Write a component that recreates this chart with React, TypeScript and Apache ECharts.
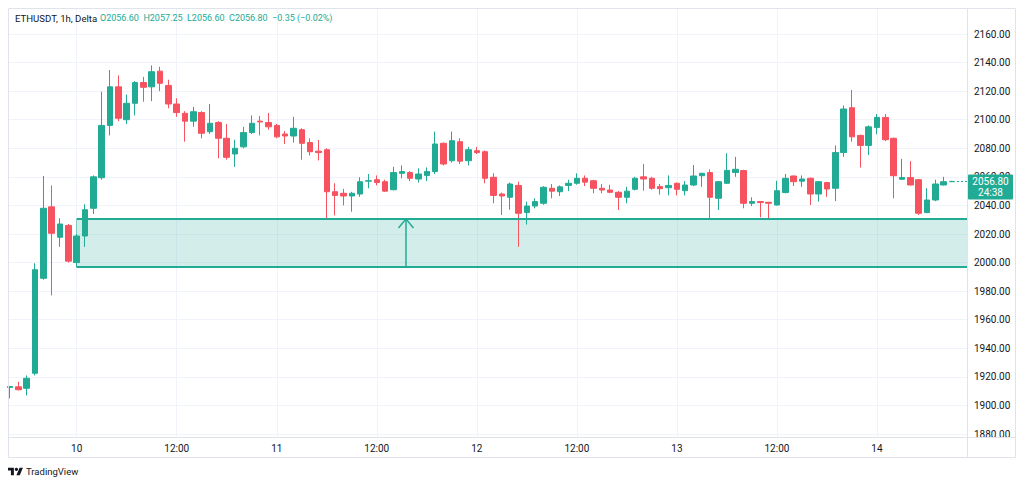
import React, { useEffect, useRef } from "react";
import * as echarts from "echarts";

// ---------- data ----------
const TITLE = "ETHUSDT, 1h, Delta";
const LEGEND_PARTS = ["O2056.60", "H2057.25", "L2056.60", "C2056.80", "\u22120.35 (\u22120.02%)"];
const COUNTDOWN = "24:38";

const OPENS = [
  1912.6, 1913, 1912, 1922.5, 1989, 2039, 2017.7, 2026, 2000, 2018.6,
  2038, 2059.4, 2096, 2123, 2100, 2111.5, 2126, 2123, 2134, 2124,
  2111, 2104.5, 2099, 2105, 2091.6, 2098, 2087, 2076, 2081, 2091,
  2099, 2098, 2096, 2090, 2088.6, 2093, 2084, 2078, 2079, 2049.6,
  2048.5, 2046.6, 2048, 2057, 2058, 2056.6, 2051, 2062.5, 2063, 2058.5,
  2061, 2063.7, 2083.5, 2071.3, 2084.6, 2071.3, 2078.3, 2077.6, 2059.7, 2048,
  2045.7, 2054, 2035, 2039.6, 2041.5, 2052, 2049.6, 2054, 2055.5, 2059,
  2057.3, 2052, 2050.8, 2049.2, 2045.7, 2051.3, 2060, 2059, 2053.2, 2052.4,
  2055.5, 2050.3, 2054.3, 2060.8, 2063, 2045, 2055.5, 2063, 2064.4, 2041.5,
  2042.7, 2042.2, 2040.3, 2049, 2060.6, 2057, 2059, 2048, 2056, 2052,
  2077, 2108.4, 2089, 2082, 2094.6, 2101.6, 2087, 2058.3, 2059.5, 2058,
  2035, 2043.8, 2054.3, 2056.6,
];
const HIGHS = [
  1913.4, 1916.6, 1921, 1999.5, 2060.6, 2054, 2031, 2027, 2020, 2040.8,
  2061, 2119.6, 2134.8, 2131, 2117.6, 2127, 2130, 2138, 2137, 2128,
  2115, 2106, 2109, 2106, 2111, 2099, 2097, 2086, 2095, 2103,
  2102.6, 2104.7, 2097, 2092, 2102, 2094, 2087, 2085.8, 2080, 2055.5,
  2051.6, 2049.5, 2059.7, 2062, 2061, 2058, 2067, 2068, 2064, 2066,
  2066.6, 2091.7, 2084, 2091.7, 2087, 2081, 2081, 2078.5, 2062.5, 2049,
  2056, 2056.6, 2042.7, 2045, 2053.5, 2055, 2054, 2058, 2062.5, 2061,
  2058, 2055, 2054.5, 2050, 2053, 2060, 2069, 2060, 2055, 2061,
  2056, 2057, 2068.3, 2062.8, 2065.3, 2057, 2076.5, 2074, 2065, 2045.7,
  2043, 2042.5, 2057.3, 2062, 2061, 2061, 2059.5, 2057, 2056.5, 2082,
  2110, 2120.8, 2089.5, 2096, 2104, 2104, 2087.5, 2072.6, 2071, 2058.5,
  2052, 2058, 2060, 2057.25,
];
const LOWS = [
  1905, 1910.5, 1907, 1921, 1988, 1977, 2011, 2000, 1996.7, 2011,
  2034, 2058, 2089, 2099, 2097, 2103, 2112.6, 2113, 2120, 2108,
  2102, 2084.6, 2095, 2087, 2090, 2073, 2072, 2067, 2080, 2090,
  2089, 2093, 2087, 2083, 2084, 2072, 2075, 2071.5, 2031, 2033,
  2040, 2035.6, 2046, 2052, 2054, 2049.5, 2050.5, 2059, 2057, 2056,
  2057, 2062, 2068, 2070, 2069, 2068, 2076, 2055.5, 2041.5, 2033.3,
  2037, 2011, 2026.6, 2038, 2040.5, 2045, 2046.6, 2050, 2054.5, 2053.6,
  2048.5, 2048.5, 2048.5, 2036.8, 2041.5, 2050.5, 2050.3, 2051, 2047.6, 2047,
  2047, 2047, 2053.5, 2053, 2031, 2036.8, 2055, 2060, 2038, 2039.6,
  2031.7, 2031, 2040, 2048.5, 2053.6, 2053, 2040.3, 2042.7, 2046, 2043,
  2074, 2084.6, 2066.5, 2075.3, 2089.8, 2085, 2045, 2058, 2054, 2033.3,
  2034.5, 2043, 2054, 2056.6,
];
const CLOSES = [
  1913.2, 1911, 1919, 1995, 2038, 2020.5, 2027, 2001, 2018.6, 2037,
  2060, 2096, 2123, 2101, 2111.5, 2126, 2122.7, 2133.6, 2125.5, 2111,
  2105, 2099, 2105.6, 2090.5, 2097.5, 2087, 2073.7, 2080, 2091, 2097.5,
  2098.4, 2095, 2088, 2088.6, 2094, 2083.5, 2077.6, 2077, 2049.6, 2047,
  2046.6, 2048.5, 2056.6, 2057.3, 2056, 2050, 2063, 2063.7, 2059, 2062,
  2063.7, 2083, 2069, 2085.3, 2071, 2079, 2077, 2059, 2047, 2046.6,
  2055, 2034.5, 2039.6, 2042.7, 2052.7, 2050, 2053, 2055.5, 2059, 2056.3,
  2052, 2050.8, 2049.2, 2045.7, 2050, 2059, 2058.5, 2052, 2051.7, 2054,
  2051.3, 2054.3, 2060.6, 2062.5, 2045.7, 2056.6, 2064.5, 2065.3, 2041.5, 2042.7,
  2042, 2041.5, 2050.3, 2059, 2056.6, 2058.5, 2048, 2056.6, 2051.5, 2077,
  2107.5, 2088, 2082, 2095, 2101.6, 2086, 2060.8, 2059.5, 2054.3, 2034.5,
  2043.8, 2055, 2056.6, 2056.8,
];

const X_TICK_INDEX = [8, 20, 32, 44, 56, 68, 80, 92, 104];
const X_TICK_LABELS = ["10", "12:00", "11", "12:00", "12", "12:00", "13", "12:00", "14"];
const Y_TICKS = [1880, 1900, 1920, 1940, 1960, 1980, 2000, 2020, 2040, 2060, 2080, 2100, 2120, 2140, 2160];

const ZONE_START = 8;
const ZONE_TOP = 2030.5;
const ZONE_BOTTOM = 1997;
const ARROW_AT = 47.5;

// ---------- styles ----------
const UP = "#22ab94";
const DOWN = "#f7525f";
const TEXT = "#131722";
const GRID = "#f0f3fa";
const FRAME = "#e0e3eb";
const FONT = "Roboto, sans-serif";
const X_MIN = -0.24;
const X_MAX = 114.8;

const TV_LOGO = "M14 22H7V11H0V4h14v18zM28 22h-8l7.5-18h8L28 22z";
let registered = false;

export default function App() {
  const ref = useRef<HTMLDivElement>(null);

  useEffect(() => {
    if (!ref.current) return;
    if (!registered) {
      echarts.graphic.registerShape("tvlogo", echarts.graphic.extendPath(TV_LOGO, {}) as any);
      registered = true;
    }
    const chart = echarts.init(ref.current, undefined, { renderer: "svg" });
    const candles = OPENS.map((o, i) => [i, o, CLOSES[i], LOWS[i], HIGHS[i]]);
    const last = CLOSES[CLOSES.length - 1];
    const lastIdx = CLOSES.length - 1;

    const zoneLine = (w: number) => ({ color: UP, width: w, type: "solid" as const });

    chart.setOption({
      animation: false,
      grid: { left: 8, right: 57, top: 8, bottom: 48, containLabel: false },
      xAxis: {
        type: "value",
        min: X_MIN,
        max: X_MAX,
        axisLine: { show: false },
        axisTick: { show: false, customValues: X_TICK_INDEX },
        splitLine: { show: true, lineStyle: { color: GRID, width: 1 } },
        axisLabel: {
          customValues: X_TICK_INDEX,
          color: TEXT,
          fontSize: 10,
          fontFamily: FONT,
          margin: 6,
          formatter: (v: number) => {
            const k = X_TICK_INDEX.indexOf(Math.round(v));
            return k >= 0 ? X_TICK_LABELS[k] : "";
          },
        },
      },
      yAxis: {
        type: "value",
        position: "right",
        min: 1877.9,
        max: 2178.2,
        scale: true,
        axisLine: { show: false },
        axisTick: { show: false, customValues: Y_TICKS },
        splitLine: { show: true, lineStyle: { color: GRID, width: 1 } },
        axisLabel: {
          customValues: Y_TICKS,
          color: TEXT,
          fontSize: 10,
          fontFamily: FONT,
          margin: 7,
          formatter: (v: number) => v.toFixed(2),
        },
      },
      series: [
        {
          type: "line",
          data: [],
          silent: true,
          markArea: {
            silent: true,
            itemStyle: { color: "rgba(34,171,148,0.2)" },
            data: [[{ coord: [ZONE_START, ZONE_TOP] }, { coord: [X_MAX, ZONE_BOTTOM] }]],
          },
          markLine: {
            silent: true,
            symbol: ["none", "none"],
            label: { show: false },
            emphasis: { disabled: true },
            data: [
              [{ coord: [ZONE_START, ZONE_TOP], lineStyle: zoneLine(2) }, { coord: [X_MAX, ZONE_TOP] }],
              [{ coord: [ZONE_START, ZONE_BOTTOM], lineStyle: zoneLine(2) }, { coord: [X_MAX, ZONE_BOTTOM] }],
              [{ coord: [ZONE_START, ZONE_TOP], lineStyle: { color: "rgba(34,171,148,0.5)", width: 1, type: "solid" } }, { coord: [ZONE_START, ZONE_BOTTOM] }],
              [{ coord: [ARROW_AT, ZONE_BOTTOM], lineStyle: zoneLine(1.5) }, { coord: [ARROW_AT, ZONE_TOP] }],
              [{ coord: [ARROW_AT - 0.9, ZONE_TOP - 6.3], lineStyle: zoneLine(1.5) }, { coord: [ARROW_AT, ZONE_TOP] }],
              [{ coord: [ARROW_AT + 0.9, ZONE_TOP - 6.3], lineStyle: zoneLine(1.5) }, { coord: [ARROW_AT, ZONE_TOP] }],
              [{ coord: [lastIdx + 0.6, last], lineStyle: { color: UP, width: 1, type: [2, 2] } }, { coord: [X_MAX, last] }],
            ],
          },
        },
        {
          type: "candlestick",
          data: candles,
          encode: { x: 0, y: [1, 2, 3, 4] },
          barWidth: 6,
          silent: true,
          itemStyle: {
            color: UP,
            color0: DOWN,
            borderColor: UP,
            borderColor0: DOWN,
            borderWidth: 1,
          },
        },
      ],
    });

    const py = chart.convertToPixel({ gridIndex: 0 }, [0, last])[1];

    chart.setOption({
      graphic: [
        { type: "rect", z: 100, silent: true, shape: { x: 8.5, y: 8.5, width: 1007, height: 449 }, style: { fill: "none", stroke: FRAME, lineWidth: 1 } },
        { type: "line", z: 100, silent: true, shape: { x1: 967.5, y1: 8, x2: 967.5, y2: 458 }, style: { stroke: FRAME, lineWidth: 1 } },
        { type: "line", z: 100, silent: true, shape: { x1: 8, y1: 437.5, x2: 1016, y2: 437.5 }, style: { stroke: FRAME, lineWidth: 1 } },
        { type: "text", z: 100, silent: true, x: 15, y: 18, style: { text: TITLE, fill: TEXT, font: `9.6px ${FONT}`, verticalAlign: "middle" } },
        {
          type: "text", z: 100, silent: true, x: 100, y: 18,
          style: { text: LEGEND_PARTS.join("  "), fill: UP, font: `9px ${FONT}`, verticalAlign: "middle" },
        },
        { type: "rect", z: 110, silent: true, shape: { x: 968, y: py - 7, width: 45, height: 25, r: 1 }, style: { fill: UP } },
        { type: "text", z: 111, silent: true, x: 990.5, y: py + 0.5, style: { text: last.toFixed(2), fill: "#ffffff", font: `10px ${FONT}`, align: "center", verticalAlign: "middle" } },
        { type: "text", z: 111, silent: true, x: 990.5, y: py + 11.5, style: { text: COUNTDOWN, fill: "#ffffff", font: `10px ${FONT}`, align: "center", verticalAlign: "middle" } },
        { type: "tvlogo", z: 100, silent: true, x: 8, y: 466, scaleX: 0.42, scaleY: 0.42, style: { fill: TEXT } },
        { type: "circle", z: 100, silent: true, shape: { cx: 8 + 20 * 0.42, cy: 466 + 8 * 0.42, r: 4 * 0.42 }, style: { fill: TEXT } },
        { type: "text", z: 100, silent: true, x: 26, y: 471, style: { text: "TradingView", fill: TEXT, font: `9.5px ${FONT}`, verticalAlign: "middle" } },
      ],
    });

    return () => chart.dispose();
  }, []);

  return (
    <div
      ref={ref}
      style={{ position: "fixed", left: 0, top: 0, width: 1024, height: 485, background: "#ffffff" }}
    />
  );
}
